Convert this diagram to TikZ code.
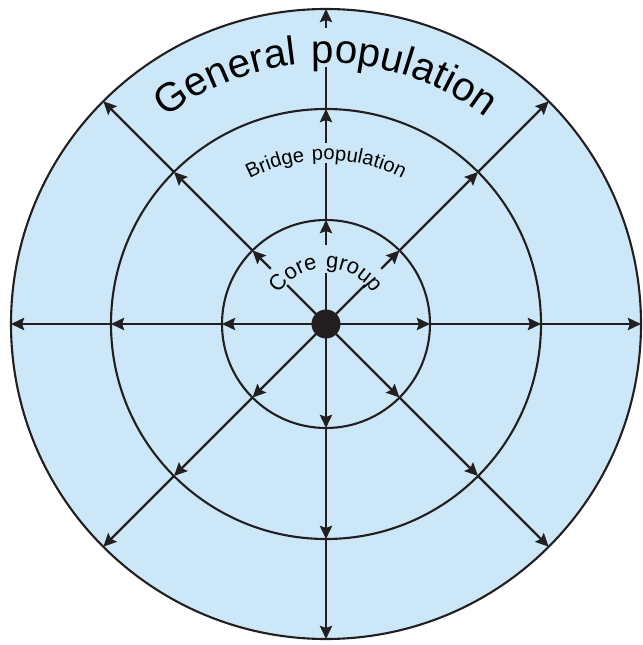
\documentclass[tikz,border=0pt]{standalone}
\usepackage{fontspec}
\setmainfont{Liberation Sans}
\newfontfamily\arcfont[LetterSpace=8]{Liberation Sans}
\usepackage{tikz}
\usetikzlibrary{arrows.meta,decorations.text}
\definecolor{popblue}{RGB}{204,232,248}
\definecolor{inkdark}{RGB}{35,31,32}

\begin{document}
\begin{tikzpicture}[
    ring/.style={draw=inkdark, line width=1.2pt},
    bare/.style={draw=inkdark, line width=1.3pt},
    spoke/.style={bare, -{Stealth[length=7.5pt,width=7pt,inset=1.2pt]}},
    arclabel/.style={decorate, decoration={text along path, text align=center, text={#1}}}]
    \useasboundingbox (-6.52,-6.42) rectangle (6.32,6.48);
    \coordinate (hub) at (0,0);
    \fill[popblue] (hub) circle (6.3);
    \draw[ring] (hub) circle (6.3);
    \draw[ring] (hub) circle (4.3);
    \draw[ring] (hub) circle (2.08);
    % ring crossings of every spoke
    \foreach \a in {0,45,...,315} {
        \coordinate (core\a) at (\a:2.08);
        \coordinate (bridge\a) at (\a:4.3);
        \coordinate (gen\a) at (\a:6.3);
    }
    % spokes with no label in the way
    \foreach \a in {0,180,225,270,315} {
        \draw[spoke] (hub) -- (core\a);
        \draw[spoke] (core\a) -- (bridge\a);
        \draw[spoke] (bridge\a) -- (gen\a);
    }
    % diagonals cut by the core label
    \foreach \a in {45,135} {
        \coordinate (cutin\a) at (\a:1.1);
        \coordinate (cutout\a) at (\a:1.56);
        \draw[bare] (hub) -- (cutin\a);
        \draw[spoke] (cutout\a) -- (core\a);
        \draw[spoke] (core\a) -- (bridge\a);
        \draw[spoke] (bridge\a) -- (gen\a);
    }
    % vertical spoke, cut by all three labels
    \coordinate (gapa) at (90:1.02);
    \coordinate (gapb) at (90:1.58);
    \coordinate (gapc) at (90:3.22);
    \coordinate (gapd) at (90:3.62);
    \coordinate (gape) at (90:5.14);
    \coordinate (gapf) at (90:5.92);
    \draw[bare] (hub) -- (gapa);
    \draw[spoke] (gapb) -- (core90);
    \draw[bare] (core90) -- (gapc);
    \draw[spoke] (gapd) -- (bridge90);
    \draw[bare] (bridge90) -- (gape);
    \draw[spoke] (gapf) -- (gen90);
    \fill[inkdark] (hub) circle (0.29);
    % labels along the rings
    \path[arclabel={|\arcfont\fontsize{23}{27}\selectfont|General population}] (170:5.22) arc[start angle=170, end angle=10, radius=5.22];
    \path[arclabel={|\arcfont\fontsize{11.5}{13}\selectfont|Bridge population}] (160:3.28) arc[start angle=160, end angle=20, radius=3.28];
    \path[arclabel={|\arcfont\fontsize{12.5}{14}\selectfont|Core group}] (175:1.12) arc[start angle=175, end angle=5, radius=1.12];
\end{tikzpicture}
\end{document}
